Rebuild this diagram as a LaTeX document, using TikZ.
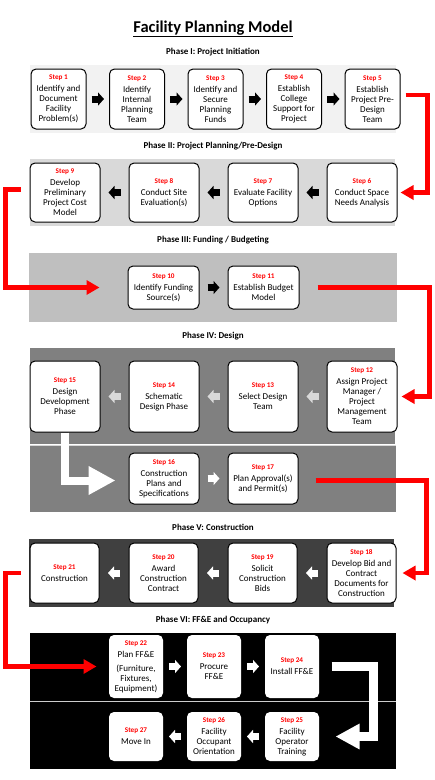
\documentclass[tikz,border=0pt]{standalone}
\usepackage{fontspec}
\setmainfont{Carlito}
\usetikzlibrary{arrows.meta}
\usetikzlibrary{positioning}
\newcommand{\stepno}[1]{{\color{red}\bfseries\fontsize{7.2}{10}\selectfont Step #1}\\[2pt]}
\tikzset{step box/.style={rectangle,draw,line width=1pt,rounded corners=5pt,fill=white,align=center,inner sep=1pt,font=\fontsize{9}{10}\selectfont},
  phase label/.style={font=\bfseries\fontsize{9}{10}\selectfont},
  blk/.style={-{Triangle[width=13pt,length=6pt]},line width=7pt,shorten <=#1,shorten >=#1},
  blk/.default=5pt,
  red arrow/.style={draw=red,line width=4.5pt,-{Triangle[width=14pt,length=13pt]}},
  white arrow/.style={draw=white,-{Triangle[width=#1,length=#1]}},
  phase1 box/.style={step box,minimum width=55pt,minimum height=60pt},
  phase2 box/.style={step box,minimum width=70pt,minimum height=59pt},
  phase3 box/.style={step box,minimum width=71pt,minimum height=43pt},
  phase4 box/.style={step box,minimum width=70pt,minimum height=71pt},
  phase4b box/.style={step box,minimum width=70pt,minimum height=51pt},
  phase5 box/.style={step box,minimum width=69pt,minimum height=60pt},
  phase6 box/.style={step box,draw=none,minimum width=54pt,minimum height=63pt},
  phase6b box/.style={step box,draw=none,minimum width=54pt,minimum height=49pt},
}
\begin{document}
\begin{tikzpicture}[x=1pt,y=-1pt]
  \useasboundingbox (0,0) rectangle (435,780);
  % bands
  \fill[black!5] (30,65) rectangle (396,133);
  \fill[black!15] (30,159) rectangle (395,226);
  \fill[black!25] (29,253) rectangle (397,322);
  \fill[black!50] (30,348) rectangle (395,444);
  \fill[black!50] (30,446) rectangle (396,512);
  \draw[black!15] (30,445) -- (396,445);
  \fill[black!75] (29,539) rectangle (394,607);
  \fill[black] (30,633) rectangle (396,769);
  \draw[black!20,line width=1pt] (30,701) -- (396,701);

  \node[font=\bfseries\fontsize{16.5}{20}\selectfont] (title) at (213,29) {\underline{Facility Planning Model}};
  \node[phase label] (ph1) at (213,52) {Phase I: Project Initiation};
  \node[phase label] (ph2) at (213,146) {Phase II: Project Planning/Pre-Design};
  \node[phase label] (ph3) at (213,240) {Phase III: Funding / Budgeting};
  \node[phase label] (ph4) at (213,336) {Phase IV: Design};
  \node[phase label] (ph5) at (213,527) {Phase V: Construction};
  \node[phase label] (ph6) at (213,620) {Phase VI: FF\&E and Occupancy};

  % phase I
  \node[phase1 box] (s1) at (58.5,99) {\stepno{1}Identify and\\Document\\Facility\\Problem(s)};
  \node[phase1 box] (s2) [right=22.5pt of s1] {\stepno{2}Identify\\Internal\\Planning\\Team};
  \node[phase1 box] (s3) [right=22.5pt of s2] {\stepno{3}Identify and\\Secure\\Planning\\Funds};
  \node[phase1 box] (s4) [right=22.5pt of s3] {\stepno{4}Establish\\College\\Support for\\Project};
  \node[phase1 box] (s5) [right=22.5pt of s4] {\stepno{5}Establish\\Project Pre-\\Design\\Team};
  % phase II
  \node[phase2 box] (s9) at (65,192.5) {\stepno{9}Develop\\Preliminary\\Project Cost\\Model};
  \node[phase2 box] (s8) [right=28pt of s9] {\stepno{8}Conduct Site\\Evaluation(s)};
  \node[phase2 box] (s7) [right=28pt of s8] {\stepno{7}Evaluate Facility\\Options};
  \node[phase2 box] (s6) [right=28pt of s7] {\stepno{6}Conduct Space\\Needs Analysis};
  % phase III
  \node[phase3 box] (s10) at (163.5,287.5) {\stepno{10}Identify Funding\\Source(s)};
  \node[phase3 box] (s11) [right=28pt of s10] {\stepno{11}Establish Budget\\Model};
  % phase IV
  \node[phase4 box] (s15) at (65,396.5) {\stepno{15}Design\\Development\\Phase};
  \node[phase4 box] (s14) [right=28pt of s15] {\stepno{14}Schematic\\Design Phase};
  \node[phase4 box] (s13) [right=28pt of s14] {\stepno{13}Select Design\\Team};
  \node[phase4 box] (s12) [right=28pt of s13] {\stepno{12}Assign Project\\Manager /\\Project\\Management\\Team};
  \node[phase4b box] (s16) at (164,478.5) {\stepno{16}Construction\\Plans and\\Specifications};
  \node[phase4b box] (s17) [right=28pt of s16] {\stepno{17}Plan Approval(s)\\and Permit(s)};
  % phase V
  \node[phase5 box] (s21) at (64.5,573) {\stepno{21}Construction};
  \node[phase5 box] (s20) [right=29pt of s21] {\stepno{20}Award\\Construction\\Contract};
  \node[phase5 box] (s19) [right=29pt of s20] {\stepno{19}Solicit\\Construction\\Bids};
  \node[phase5 box] (s18) [right=29pt of s19] {\stepno{18}Develop Bid and\\Contract\\Documents for\\Construction};
  % phase VI
  \node[phase6 box] (s22) at (136,666.5) {\stepno{22}Plan FF\&E\\[4pt](Furniture,\\Fixtures,\\Equipment)};
  \node[phase6 box] (s23) [right=23pt of s22] {\stepno{23}Procure\\FF\&E};
  \node[phase6 box] (s24) [right=23pt of s23] {\stepno{24}Install FF\&E};
  \node[phase6b box] (s27) at (136,736.5) {\stepno{27}Move In};
  \node[phase6b box] (s26) [right=23pt of s27] {\stepno{26}Facility\\Occupant\\Orientation};
  \node[phase6b box] (s25) [right=23pt of s26] {\stepno{25}Facility\\Operator\\Training};

  \path[blk] (s1) edge (s2) (s2) edge (s3) (s3) edge (s4) (s4) edge (s5);
  \path[blk=8pt] (s6) edge (s7) (s7) edge (s8) (s8) edge (s9);
  \path[blk=8pt] (s10) edge (s11);
  \path[blk=8pt,black!15] (s12) edge (s13) (s13) edge (s14) (s14) edge (s15);
  \path[blk=8pt,white] (s16) edge (s17);
  \path[blk=8.5pt,white] (s18) edge (s19) (s19) edge (s20) (s20) edge (s21);
  \path[blk=5.5pt,white] (s22) edge (s23) (s23) edge (s24);
  \path[blk=5.5pt,white] (s25) edge (s26) (s26) edge (s27);

  \draw[red arrow] ([xshift=5pt,yshift=4pt]s5.east) -- ++(22,0) |- ([xshift=3pt]s6.east);
  \draw[red arrow] ([xshift=-9pt,yshift=3pt]s9.west) -- ++(-15,0) |- ([xshift=-28pt]s10.west);
  \draw[red arrow] ([xshift=18pt]s11.east) -- ++(112,0) |- ([xshift=4pt]s12.east);
  \draw[red arrow] ([xshift=17pt,yshift=-2pt]s17.east) -- ++(111,0) |- ([xshift=6pt]s18.east);
  \draw[red arrow] ([xshift=-9pt]s21.west) -- ++(-15,0) |- ([xshift=-12pt]s22.west);
  \draw[white arrow=27pt,line width=8pt] (s15.south) |- ([xshift=-13pt,yshift=-2pt]s16.west);
  \draw[white arrow=24pt,line width=8.5pt] ([xshift=12pt]s24.east) -- ++(42,0) |- ([xshift=16pt]s25.east);
\end{tikzpicture}
\end{document}
